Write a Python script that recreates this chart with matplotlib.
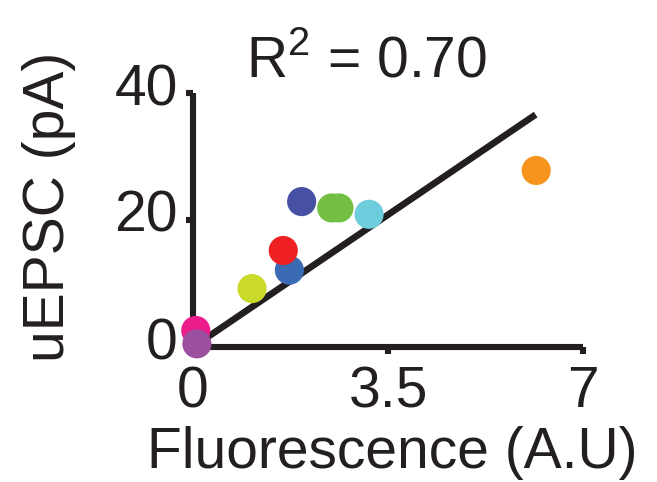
import matplotlib
matplotlib.use("Agg")
import matplotlib.pyplot as plt
from matplotlib.transforms import ScaledTranslation

plt.rcParams['font.family'] = ['Liberation Sans', 'DejaVu Sans']
plt.rcParams['mathtext.fontset'] = 'custom'
plt.rcParams['mathtext.rm'] = 'Liberation Sans'

# data
fluor = [0.05, 0.07, 1.06, 1.73, 1.62, 1.95, 2.49, 2.62, 3.16, 6.16]
uepsc = [2.6, 0.5, 9.2, 12.1, 15.2, 22.9, 21.9, 21.9, 20.9, 27.8]
colors = ["#EC1C8C", "#9B4F9F", "#C9DA2A", "#3B6BB5", "#EE2024",
          "#4651A3", "#72BF44", "#72BF44", "#6DCDDC", "#F7941D"]
fit_x = [0, 6.15]
fit_y = [0, 36.6]
xticks = [0, 3.5, 7]
xticklabels = ["0", "3.5", "7"]
yticks = [0, 20, 40]
r2_text = "R$^2$ = 0.70"

INK = "#231f20"
FS = 41

fig = plt.figure(figsize=(6.57, 4.82), dpi=100)
ax = fig.add_axes([193/657, 1-347/482, 390/657, 254/482])

ax.plot(fit_x, fit_y, color=INK, lw=4.8, solid_capstyle='butt', zorder=2)
for i in range(len(fluor)):
    ax.scatter(fluor[i], uepsc[i], s=440, color=colors[i], edgecolors='none',
               zorder=3, clip_on=False)

ax.set_xlim(0, 7)
ax.set_ylim(0, 40)
ax.set_xticks(xticks)
ax.set_xticklabels(xticklabels)
ax.set_yticks(yticks)
for s in ['top', 'right']:
    ax.spines[s].set_visible(False)
for s in ['left', 'bottom']:
    ax.spines[s].set_linewidth(4.4)
    ax.spines[s].set_color(INK)
    ax.spines[s].set_capstyle('butt')
ax.tick_params(axis='both', direction='out', length=5, width=4.4, color=INK,
               labelsize=FS, labelcolor=INK)
ax.tick_params(axis='x', pad=8)
ax.tick_params(axis='y', pad=6)

# y tick labels sit a bit above their ticks in the original
up = ScaledTranslation(0, 9/100, fig.dpi_scale_trans)
for lab in ax.get_yticklabels():
    lab.set_transform(lab.get_transform() + up)

ax.set_xlabel("Fluorescence (A.U)", fontsize=FS, color=INK)
ax.set_ylabel("uEPSC (pA)", fontsize=FS, color=INK)
ax.xaxis.set_label_coords(0.51, -0.31)
ax.yaxis.set_label_coords(-0.30, 0.55)

ax.text(0.444, 1.015, r2_text, transform=ax.transAxes, ha='center', va='bottom',
        fontsize=FS, color=INK)

fig.savefig("out.png", dpi=100)
